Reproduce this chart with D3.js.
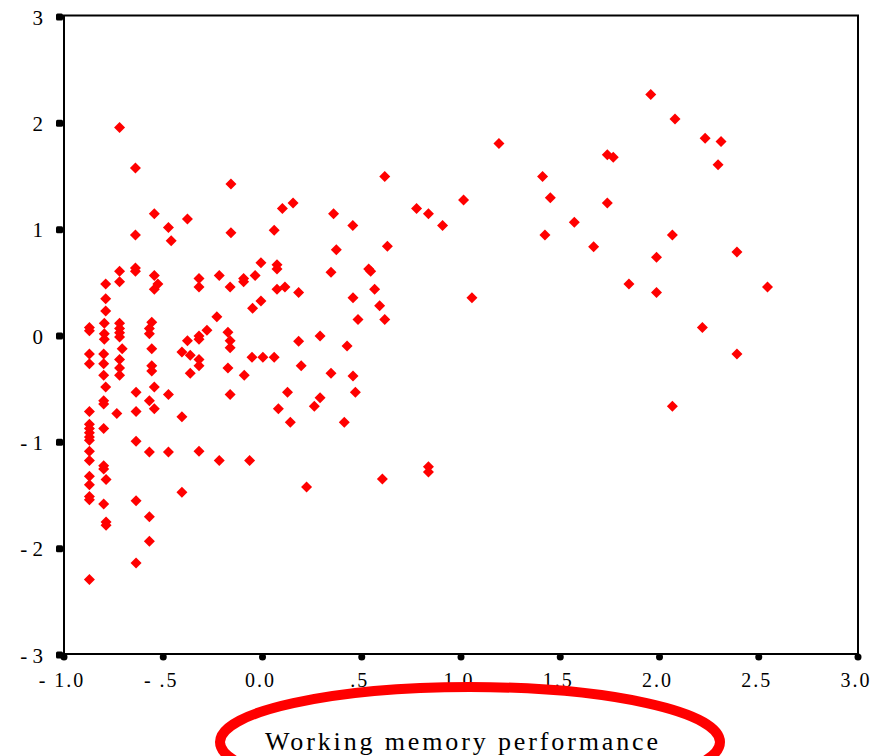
<!DOCTYPE html>
<html><head><meta charset="utf-8">
<script src="https://cdn.jsdelivr.net/npm/d3@7"></script>
<style>html,body{margin:0;padding:0;background:#fff;}svg{display:block;} text{font-family:"Liberation Serif","Times New Roman",Times,serif;}</style>
</head><body>
<script>
const xValues = [
-0.72,-0.64,-0.545,-0.474,-0.378,-0.64,-0.46,-0.159,-0.159,0.059,0.10,0.154,
1.191,0.616,1.411,1.45,1.013,0.776,0.836,0.907,0.358,0.455,1.571,1.423,0.372,0.629,0.345,0.535,0.545,0.113,0.182,0.456,0.565,0.59,0.481,0.616,1.055,0.182,0.29,0.426,
0.195,0.345,0.456,0.126,0.29,0.261,0.468,0.08,0.14,0.412,0.222,0.604,0.836,0.836,
1.956,2.078,2.23,2.31,2.295,1.737,1.767,1.737,1.668,2.065,1.985,2.39,1.846,1.985,2.544,2.216,2.39,2.065,
-0.72,-0.72,-0.79,-0.64,-0.64,-0.545,-0.545,-0.527,-0.79,-0.79,-0.872,-0.872,-0.797,-0.797,-0.797,-0.72,-0.72,-0.72,-0.72,-0.707,
-0.872,-0.872,-0.80,-0.80,-0.72,-0.72,-0.72,-0.80,-0.79,-0.80,-0.80,-0.872,-0.872,-0.872,-0.872,-0.872,-0.872,-0.80,-0.734,-0.637,
-0.57,-0.545,-0.474,-0.406,-0.637,-0.545,-0.558,-0.558,-0.558,-0.558,-0.57,-0.57,-0.406,-0.364,-0.378,-0.32,-0.32,-0.28,-0.23,-0.32,
-0.32,-0.364,-0.174,-0.163,-0.163,-0.174,-0.092,-0.163,-0.053,0.002,0.059,-0.05,-0.008,-0.008,0.073,0.073,0.073,-0.037,-0.095,-0.095,
-0.163,-0.218,-0.32,-0.32,
-0.637,-0.57,-0.474,-0.32,-0.218,-0.065,-0.872,-0.872,-0.80,-0.80,-0.872,-0.872,-0.788,-0.872,-0.872,-0.80,-0.637,-0.406,-0.57,-0.788,
-0.788,-0.57,-0.637,-0.872
];
const yValues = [
1.96,1.58,1.15,1.02,1.10,0.95,0.895,1.43,0.97,0.995,1.20,1.25,
1.81,1.50,1.50,1.30,1.28,1.20,1.15,1.04,1.15,1.04,1.07,0.95,0.81,0.845,0.60,0.63,0.61,0.46,0.41,0.36,0.44,0.285,0.155,0.155,0.36,-0.05,0.00,-0.095,
-0.28,-0.35,-0.375,-0.53,-0.58,-0.66,-0.53,-0.685,-0.81,-0.81,-1.42,-1.345,-1.23,-1.28,
2.27,2.04,1.86,1.83,1.61,1.705,1.68,1.25,0.84,0.95,0.74,0.79,0.49,0.41,0.46,0.08,-0.17,-0.66,
0.61,0.51,0.49,0.64,0.61,0.57,0.44,0.49,0.35,0.235,0.08,0.05,0.12,0.02,-0.03,0.12,0.07,0.03,-0.01,-0.12,
-0.17,-0.26,-0.17,-0.26,-0.22,-0.30,-0.37,-0.37,-0.48,-0.61,-0.64,-0.71,-0.83,-0.87,-0.91,-0.95,-0.98,-0.87,-0.73,-0.71,
-0.61,-0.685,-0.55,-0.76,-0.53,-0.48,-0.33,-0.28,-0.12,0.13,0.07,0.02,-0.15,-0.18,-0.045,0.00,-0.03,0.055,0.18,-0.22,
-0.28,-0.35,0.035,-0.045,-0.11,-0.30,-0.37,-0.55,-0.20,-0.20,-0.20,0.26,0.33,0.69,0.67,0.63,0.44,0.57,0.54,0.51,
0.46,0.57,0.54,0.46,
-0.99,-1.09,-1.09,-1.085,-1.17,-1.17,-1.085,-1.17,-1.22,-1.25,-1.32,-1.40,-1.35,-1.51,-1.54,-1.58,-1.55,-1.47,-1.70,-1.75,
-1.78,-1.93,-2.135,-2.29
];
const xTicks = [-1.0,-0.5,0.0,0.5,1.0,1.5,2.0,2.5,3.0];
const xTickLabels = ["- 1.0","- .5","0.0",".5","1.0","1.5","2.0","2.5","3.0"];
const yTicks = [3,2,1,0,-1,-2,-3];
const yTickLabels = ["3","2","1","0","- 1","- 2","- 3"];
const xTitle = "Working memory performance";

const W = 882, H = 756;
const svg = d3.select("body").append("svg").attr("width", W).attr("height", H);
const x = d3.scaleLinear().domain([-1, 3]).range([64, 858]);
const y = d3.scaleLinear().domain([-3, 3]).range([655, 17]);

// points
const pts = d3.range(xValues.length).map(i => ({x: xValues[i], y: yValues[i]}));
const s = 5.5;
svg.append("g").selectAll("path").data(pts).join("path")
  .attr("d", `M0,${-s}L${s},0L0,${s}L${-s},0Z`)
  .attr("transform", d => `translate(${x(d.x)},${y(d.y)})`)
  .attr("fill", "#ff0000");

// frame
svg.append("rect").attr("x", x(-1)).attr("y", 15.5).attr("width", x(3) - x(-1)).attr("height", 654 - 15.5)
  .attr("fill", "none").attr("stroke", "#000").attr("stroke-width", 2);

// y ticks
svg.append("g").selectAll("rect").data(yTicks).join("rect")
  .attr("x", 56).attr("y", d => y(d) - 3.5).attr("width", 7).attr("height", 7).attr("rx", 1.5)
  .attr("fill", "#000");
svg.append("g").selectAll("text").data(yTicks).join("text")
  .attr("x", 43).attr("y", d => y(d) + 7.5)
  .attr("text-anchor", "end").attr("font-size", 21)
  .text((d, i) => yTickLabels[i]);

// x ticks
svg.append("g").selectAll("circle").data(xTicks).join("circle")
  .attr("cx", d => x(d)).attr("cy", 657).attr("r", 3.5).attr("fill", "#000");
svg.append("g").selectAll("text").data(xTicks).join("text")
  .attr("x", d => x(d) - 2).attr("y", 687)
  .attr("text-anchor", "middle").attr("font-size", 20)
  .attr("letter-spacing", 2)
  .text((d, i) => xTickLabels[i]);

// ellipse highlight
svg.append("ellipse").attr("cx", 470).attr("cy", 742).attr("rx", 250).attr("ry", 55)
  .attr("fill", "none").attr("stroke", "#ff0000").attr("stroke-width", 10);

// x title
svg.append("text").attr("x", 265).attr("y", 750)
  .attr("font-size", 26)
  .attr("textLength", 393).attr("lengthAdjust", "spacing")
  .text(xTitle);
</script>
</body></html>
